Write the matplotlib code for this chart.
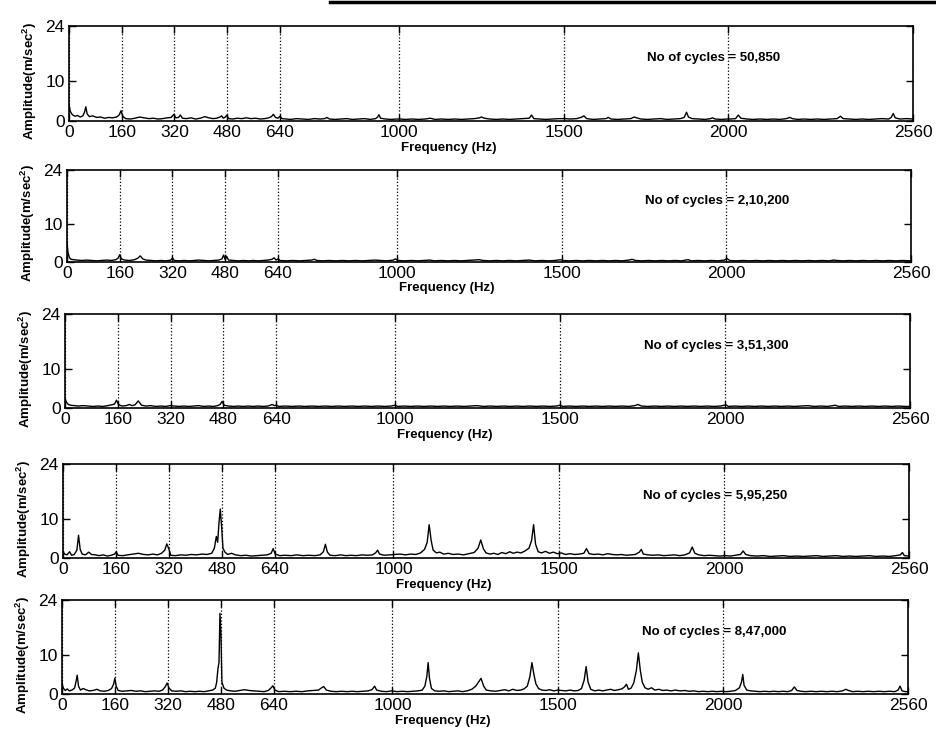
import numpy as np
import matplotlib.pyplot as plt
from matplotlib.lines import Line2D

plt.rcParams['font.family'] = ['Liberation Sans', 'DejaVu Sans']
plt.rcParams['mathtext.fontset'] = 'custom'
plt.rcParams['mathtext.rm'] = 'Liberation Sans'
plt.rcParams['mathtext.bf'] = 'Liberation Sans:bold'

# tick values and grid positions
x_ticks = [0, 160, 320, 480, 640, 1000, 1500, 2000, 2560]
y_ticks = [0, 10, 24]
cycle_labels = ['50,850', '2,10,200', '3,51,300', '5,95,250', '8,47,000']

# spectra: (frequency Hz, amplitude m/s^2)
spec_50850 = [
    (0, 4.2), (4, 2.4), (10, 1.6), (18, 1.2), (26, 1.4), (34, 1.0), (42, 1.3), (47, 2.2), (51, 3.6),
    (55, 1.8), (62, 1.1), (72, 1.3), (84, 0.9), (96, 1.0), (108, 0.7), (120, 0.9), (132, 0.8),
    (144, 1.0), (152, 1.5), (158, 2.6), (163, 1.2), (172, 0.6), (186, 0.5), (200, 0.7), (214, 1.0),
    (228, 0.8), (242, 0.6), (256, 0.7), (270, 0.5), (284, 0.6), (298, 0.8), (310, 0.9), (318, 1.7),
    (324, 0.8), (332, 0.9), (338, 1.5), (344, 0.7), (356, 0.6), (370, 0.8), (384, 0.5), (398, 0.7),
    (412, 1.1), (424, 0.8), (436, 0.6), (448, 0.7), (458, 1.0), (463, 1.3), (468, 0.7), (474, 1.0),
    (479, 1.5), (484, 0.6), (496, 0.5), (510, 0.7), (524, 0.6), (538, 0.8), (552, 0.6), (566, 0.7),
    (580, 0.5), (594, 0.6), (606, 0.8), (614, 1.1), (620, 1.7), (626, 0.9), (634, 0.7), (640, 1.2),
    (646, 0.6), (672, 0.4), (690, 0.6), (708, 0.5), (726, 0.4), (744, 0.6), (762, 0.5), (776, 0.6),
    (782, 0.9), (790, 0.5), (806, 0.4), (824, 0.5), (842, 0.6), (860, 0.4), (878, 0.5), (896, 0.6),
    (914, 0.4), (930, 0.6), (936, 1.0), (940, 1.6), (945, 0.7), (960, 0.5), (978, 0.4), (992, 0.5),
    (1004, 0.5), (1020, 0.4), (1040, 0.5), (1060, 0.4), (1080, 0.5), (1096, 0.7), (1110, 0.4),
    (1130, 0.5), (1150, 0.4), (1170, 0.5), (1190, 0.4), (1210, 0.5), (1230, 0.6), (1245, 0.8),
    (1251, 1.0), (1260, 0.7), (1276, 0.5), (1296, 0.4), (1316, 0.5), (1336, 0.4), (1356, 0.5),
    (1376, 0.6), (1396, 0.7), (1403, 1.5), (1410, 0.6), (1426, 0.5), (1446, 0.4), (1466, 0.5),
    (1486, 0.6), (1504, 0.6), (1520, 0.5), (1540, 0.6), (1556, 1.0), (1562, 1.3), (1570, 0.6),
    (1590, 0.4), (1610, 0.5), (1628, 0.6), (1636, 0.9), (1644, 0.5), (1664, 0.4), (1684, 0.5),
    (1704, 0.6), (1714, 1.0), (1722, 0.8), (1734, 0.5), (1754, 0.4), (1774, 0.5), (1794, 0.6),
    (1814, 0.4), (1834, 0.5), (1854, 0.6), (1866, 0.9), (1873, 2.2), (1879, 1.0), (1890, 0.6),
    (1910, 0.5), (1930, 0.4), (1946, 0.6), (1952, 0.8), (1960, 0.5), (1980, 0.4), (1996, 0.5),
    (2006, 0.5), (2022, 0.6), (2030, 1.5), (2038, 0.7), (2056, 0.5), (2076, 0.4), (2096, 0.5),
    (2116, 0.4), (2136, 0.5), (2156, 0.4), (2176, 0.6), (2186, 0.9), (2194, 0.6), (2210, 0.4),
    (2230, 0.5), (2250, 0.4), (2270, 0.5), (2290, 0.4), (2310, 0.5), (2330, 0.6), (2340, 1.2),
    (2348, 0.6), (2366, 0.5), (2386, 0.4), (2406, 0.5), (2426, 0.4), (2446, 0.5), (2466, 0.6),
    (2486, 0.5), (2494, 0.9), (2500, 1.9), (2506, 0.8), (2520, 0.5), (2540, 0.6), (2560, 0.5),
]

spec_210200 = [
    (0, 5.0), (3, 2.5), (7, 1.2), (12, 0.7), (20, 0.6), (30, 0.5), (45, 0.4), (60, 0.5), (75, 0.4),
    (90, 0.3), (105, 0.4), (120, 0.5), (135, 0.4), (148, 0.6), (155, 1.0), (160, 1.9), (165, 0.8),
    (175, 0.5), (190, 0.4), (205, 0.6), (215, 1.0), (222, 1.6), (230, 0.8), (240, 0.5), (255, 0.4),
    (270, 0.3), (285, 0.4), (300, 0.3), (315, 0.5), (320, 1.1), (325, 0.4), (340, 0.3), (355, 0.4),
    (370, 0.3), (385, 0.4), (400, 0.5), (415, 0.4), (430, 0.3), (445, 0.4), (460, 0.5), (470, 0.8),
    (475, 1.8), (480, 0.6), (484, 1.5), (490, 0.5), (505, 0.4), (520, 0.3), (535, 0.4), (550, 0.3),
    (565, 0.4), (580, 0.3), (595, 0.4), (610, 0.5), (622, 0.7), (628, 1.1), (634, 0.5), (640, 0.8),
    (646, 0.4), (665, 0.3), (685, 0.4), (705, 0.3), (725, 0.4), (742, 0.5), (750, 0.7), (758, 0.4),
    (775, 0.3), (795, 0.4), (815, 0.3), (835, 0.4), (855, 0.3), (875, 0.4), (895, 0.3), (915, 0.4),
    (935, 0.5), (950, 0.4), (970, 0.3), (990, 0.5), (996, 0.8), (1004, 0.4), (1025, 0.3), (1045, 0.4),
    (1065, 0.3), (1085, 0.4), (1100, 0.5), (1115, 0.3), (1135, 0.4), (1155, 0.3), (1175, 0.4),
    (1195, 0.3), (1215, 0.4), (1235, 0.5), (1250, 0.6), (1262, 0.4), (1282, 0.3), (1302, 0.4),
    (1322, 0.3), (1342, 0.4), (1362, 0.3), (1382, 0.4), (1402, 0.5), (1420, 0.3), (1440, 0.4),
    (1460, 0.3), (1480, 0.4), (1496, 0.6), (1504, 0.4), (1524, 0.3), (1544, 0.4), (1564, 0.3),
    (1584, 0.4), (1604, 0.3), (1624, 0.4), (1644, 0.3), (1664, 0.4), (1684, 0.3), (1704, 0.5),
    (1714, 0.7), (1724, 0.4), (1744, 0.3), (1764, 0.4), (1784, 0.3), (1804, 0.4), (1824, 0.3),
    (1844, 0.4), (1864, 0.3), (1876, 0.5), (1884, 0.6), (1894, 0.3), (1914, 0.4), (1934, 0.3),
    (1954, 0.4), (1974, 0.3), (1994, 0.5), (2002, 0.9), (2010, 0.4), (2030, 0.3), (2050, 0.4),
    (2070, 0.3), (2090, 0.4), (2110, 0.3), (2130, 0.4), (2150, 0.3), (2170, 0.4), (2190, 0.3),
    (2210, 0.4), (2230, 0.3), (2250, 0.4), (2270, 0.3), (2290, 0.4), (2310, 0.3), (2326, 0.5),
    (2334, 0.4), (2354, 0.3), (2374, 0.4), (2394, 0.3), (2414, 0.4), (2434, 0.3), (2454, 0.4),
    (2474, 0.3), (2494, 0.4), (2514, 0.3), (2534, 0.4), (2560, 0.3),
]

spec_351300 = [
    (0, 2.6), (4, 1.5), (10, 0.9), (18, 0.7), (28, 0.6), (40, 0.5), (55, 0.6), (70, 0.5), (85, 0.4),
    (100, 0.5), (115, 0.4), (130, 0.6), (140, 0.8), (150, 1.0), (156, 2.0), (162, 0.9), (172, 0.5),
    (185, 0.6), (195, 0.9), (203, 0.6), (212, 0.8), (222, 1.8), (232, 0.7), (245, 0.5), (260, 0.6),
    (275, 0.4), (290, 0.5), (305, 0.4), (318, 0.6), (332, 0.5), (345, 0.4), (360, 0.5), (375, 0.4),
    (390, 0.5), (405, 0.6), (420, 0.4), (435, 0.5), (450, 0.4), (462, 0.6), (470, 0.9), (476, 1.7),
    (482, 0.7), (495, 0.5), (510, 0.4), (525, 0.5), (540, 0.4), (555, 0.5), (570, 0.4), (585, 0.5),
    (600, 0.4), (615, 0.5), (628, 0.9), (634, 0.6), (640, 0.7), (648, 0.4), (668, 0.5), (688, 0.4),
    (708, 0.5), (728, 0.4), (748, 0.5), (768, 0.4), (788, 0.5), (808, 0.4), (828, 0.5), (848, 0.4),
    (868, 0.5), (888, 0.4), (908, 0.5), (928, 0.4), (948, 0.5), (968, 0.4), (988, 0.5), (1000, 0.7),
    (1008, 0.4), (1028, 0.5), (1048, 0.4), (1068, 0.5), (1088, 0.4), (1108, 0.5), (1128, 0.4),
    (1148, 0.5), (1168, 0.4), (1188, 0.5), (1208, 0.4), (1228, 0.5), (1248, 0.6), (1268, 0.4),
    (1288, 0.5), (1308, 0.4), (1328, 0.5), (1348, 0.4), (1368, 0.5), (1388, 0.4), (1408, 0.5),
    (1428, 0.4), (1448, 0.5), (1468, 0.4), (1488, 0.5), (1500, 0.7), (1508, 0.4), (1528, 0.5),
    (1548, 0.4), (1568, 0.5), (1588, 0.4), (1608, 0.5), (1628, 0.4), (1648, 0.5), (1668, 0.4),
    (1688, 0.5), (1708, 0.4), (1726, 0.6), (1736, 0.9), (1746, 0.5), (1766, 0.4), (1786, 0.5),
    (1806, 0.4), (1826, 0.5), (1846, 0.4), (1866, 0.5), (1886, 0.4), (1906, 0.5), (1926, 0.4),
    (1946, 0.5), (1966, 0.4), (1986, 0.5), (2002, 0.8), (2010, 0.4), (2030, 0.5), (2050, 0.4),
    (2070, 0.5), (2090, 0.4), (2110, 0.5), (2130, 0.4), (2150, 0.5), (2170, 0.4), (2190, 0.5),
    (2210, 0.4), (2230, 0.5), (2250, 0.6), (2270, 0.4), (2290, 0.5), (2310, 0.4), (2326, 0.6),
    (2334, 0.7), (2344, 0.4), (2364, 0.5), (2384, 0.4), (2404, 0.5), (2424, 0.4), (2444, 0.5),
    (2464, 0.4), (2484, 0.5), (2504, 0.4), (2524, 0.5), (2544, 0.4), (2560, 0.4),
]

spec_595250 = [
    (0, 1.6), (5, 1.0), (12, 0.8), (20, 1.6), (26, 0.7), (34, 0.9), (42, 2.0), (47, 5.8), (52, 2.2),
    (58, 1.0), (68, 0.8), (78, 1.5), (86, 0.9), (98, 0.8), (110, 0.6), (122, 0.8), (134, 0.5),
    (146, 0.7), (156, 1.0), (161, 1.6), (166, 0.7), (180, 0.6), (196, 0.8), (212, 1.0), (228, 1.2),
    (244, 0.9), (258, 0.8), (272, 1.0), (286, 0.8), (298, 1.2), (308, 2.0), (314, 3.6), (320, 2.4),
    (326, 0.7), (340, 0.6), (356, 0.8), (372, 0.7), (388, 0.9), (404, 0.8), (420, 1.0), (436, 0.9),
    (450, 1.2), (458, 2.5), (464, 5.5), (468, 4.0), (472, 9.0), (476, 12.5), (480, 8.0), (484, 2.5),
    (490, 1.5), (498, 0.9), (510, 1.2), (522, 0.8), (538, 0.6), (554, 0.7), (570, 0.5), (586, 0.6),
    (602, 0.7), (618, 0.8), (630, 1.2), (636, 2.4), (642, 1.0), (656, 0.6), (672, 0.7), (690, 0.6),
    (708, 0.8), (726, 0.6), (744, 0.7), (762, 0.6), (778, 0.8), (788, 1.6), (794, 3.5), (800, 1.5),
    (808, 0.7), (824, 0.6), (840, 0.8), (856, 0.6), (872, 0.7), (888, 0.6), (904, 0.8), (920, 0.7),
    (936, 0.8), (946, 1.3), (952, 2.0), (958, 1.0), (972, 0.7), (988, 0.8), (1004, 0.9), (1020, 1.0),
    (1036, 0.8), (1052, 1.0), (1068, 0.9), (1082, 1.3), (1094, 2.2), (1102, 4.0), (1108, 8.5),
    (1114, 4.5), (1120, 2.0), (1130, 1.3), (1140, 1.5), (1152, 1.0), (1166, 1.2), (1180, 0.9),
    (1196, 1.0), (1212, 0.8), (1228, 1.1), (1244, 1.4), (1256, 2.5), (1264, 4.6), (1272, 2.4),
    (1280, 1.3), (1292, 1.0), (1304, 1.2), (1316, 0.9), (1328, 1.4), (1340, 1.1), (1352, 1.6),
    (1362, 1.2), (1374, 1.5), (1386, 1.3), (1398, 1.8), (1410, 2.5), (1418, 4.5), (1424, 8.5),
    (1430, 3.5), (1438, 1.6), (1448, 1.3), (1460, 1.7), (1472, 1.2), (1484, 1.5), (1496, 1.1),
    (1508, 1.3), (1520, 0.9), (1534, 1.1), (1548, 0.9), (1562, 1.0), (1576, 1.2), (1584, 2.4),
    (1592, 1.1), (1606, 0.9), (1620, 1.0), (1634, 0.8), (1648, 1.1), (1662, 0.9), (1676, 0.8),
    (1690, 0.9), (1704, 0.7), (1718, 0.8), (1732, 0.9), (1744, 1.5), (1750, 2.2), (1756, 1.0),
    (1770, 0.8), (1786, 0.7), (1802, 0.8), (1818, 0.6), (1834, 0.7), (1850, 0.8), (1866, 0.6),
    (1882, 0.8), (1896, 1.3), (1904, 2.8), (1912, 1.2), (1924, 0.8), (1940, 0.6), (1956, 0.7),
    (1972, 0.6), (1988, 0.5), (2004, 0.6), (2020, 0.5), (2036, 0.7), (2050, 0.9), (2058, 1.8),
    (2066, 0.9), (2080, 0.6), (2100, 0.5), (2120, 0.6), (2140, 0.4), (2160, 0.5), (2180, 0.6),
    (2200, 0.4), (2220, 0.5), (2240, 0.4), (2260, 0.5), (2280, 0.6), (2300, 0.4), (2320, 0.5),
    (2340, 0.6), (2360, 0.4), (2380, 0.5), (2400, 0.4), (2420, 0.5), (2440, 0.6), (2460, 0.4),
    (2480, 0.5), (2500, 0.4), (2520, 0.6), (2534, 0.8), (2540, 1.4), (2546, 0.6), (2560, 0.5),
]

spec_847000 = [
    (0, 2.8), (4, 1.5), (10, 0.9), (16, 1.3), (22, 0.8), (30, 1.0), (38, 1.5), (42, 3.0), (46, 4.8),
    (50, 2.0), (56, 1.0), (64, 1.4), (72, 1.1), (82, 0.8), (94, 0.9), (106, 1.2), (116, 0.8),
    (128, 0.7), (140, 0.9), (150, 1.4), (156, 2.5), (160, 4.0), (164, 2.0), (170, 0.9), (182, 0.7),
    (196, 0.8), (210, 0.9), (224, 0.7), (238, 0.8), (252, 0.6), (266, 0.7), (280, 0.8), (294, 0.7),
    (304, 1.0), (312, 1.8), (318, 2.8), (324, 1.5), (332, 0.8), (346, 0.7), (360, 0.8), (374, 0.6),
    (388, 0.7), (402, 0.6), (416, 0.7), (430, 0.6), (444, 0.8), (456, 1.0), (464, 1.5), (468, 3.0),
    (472, 6.5), (475, 8.0), (478, 20.6), (481, 15.0), (484, 3.0), (490, 1.5), (498, 1.0), (510, 0.8),
    (524, 0.7), (538, 0.9), (552, 1.1), (566, 0.9), (580, 0.8), (596, 0.7), (612, 0.6), (624, 0.9),
    (632, 1.5), (638, 2.1), (644, 1.0), (656, 0.6), (672, 0.7), (690, 0.6), (708, 0.7), (726, 0.6),
    (744, 0.8), (760, 0.9), (776, 1.0), (786, 1.6), (792, 1.9), (800, 1.0), (814, 0.7), (830, 0.6),
    (846, 0.7), (862, 0.6), (878, 0.7), (894, 0.6), (910, 0.7), (926, 0.8), (938, 1.1), (946, 2.0),
    (952, 1.0), (966, 0.7), (982, 0.6), (998, 0.8), (1014, 0.6), (1030, 0.7), (1046, 0.6),
    (1062, 0.7), (1078, 0.8), (1090, 1.0), (1098, 2.0), (1104, 4.5), (1108, 8.0), (1112, 4.0),
    (1118, 1.4), (1128, 0.8), (1142, 0.7), (1156, 0.8), (1170, 0.6), (1184, 0.7), (1198, 0.8),
    (1212, 0.6), (1226, 0.8), (1240, 1.2), (1252, 2.0), (1260, 3.0), (1268, 4.0), (1276, 2.0),
    (1284, 1.0), (1298, 0.8), (1312, 0.7), (1326, 0.9), (1340, 1.1), (1352, 0.8), (1364, 1.2),
    (1376, 0.9), (1388, 1.0), (1398, 1.3), (1408, 2.0), (1416, 4.5), (1422, 8.0), (1428, 5.0),
    (1434, 2.6), (1442, 1.4), (1452, 1.0), (1464, 0.9), (1476, 1.1), (1488, 0.8), (1500, 1.0),
    (1512, 0.9), (1524, 0.8), (1538, 1.0), (1550, 0.8), (1562, 0.9), (1572, 1.4), (1580, 3.5),
    (1586, 7.0), (1592, 3.0), (1600, 1.2), (1612, 0.8), (1624, 1.0), (1636, 0.8), (1648, 1.0),
    (1660, 1.2), (1672, 0.9), (1684, 1.1), (1694, 1.3), (1702, 1.8), (1708, 2.5), (1714, 1.2),
    (1722, 1.5), (1730, 2.8), (1738, 6.0), (1744, 10.5), (1750, 6.0), (1756, 3.0), (1764, 1.6),
    (1774, 1.2), (1784, 1.6), (1794, 1.0), (1806, 1.2), (1818, 0.9), (1830, 1.0), (1842, 0.8),
    (1856, 1.0), (1870, 0.8), (1884, 0.9), (1898, 0.7), (1912, 0.8), (1926, 0.6), (1940, 0.7),
    (1954, 0.6), (1968, 0.7), (1982, 0.6), (1996, 0.7), (2010, 0.6), (2024, 0.7), (2038, 0.9),
    (2050, 1.6), (2056, 3.0), (2060, 5.0), (2064, 2.2), (2072, 1.0), (2084, 0.8), (2098, 0.7),
    (2112, 0.6), (2126, 0.7), (2140, 0.6), (2154, 0.7), (2168, 0.6), (2182, 0.7), (2196, 0.6),
    (2208, 0.9), (2216, 1.8), (2224, 0.9), (2236, 0.7), (2250, 0.6), (2266, 0.7), (2282, 0.6),
    (2298, 0.7), (2314, 0.6), (2330, 0.7), (2346, 0.6), (2362, 0.8), (2372, 1.2), (2380, 0.9),
    (2392, 0.6), (2408, 0.7), (2424, 0.6), (2440, 0.7), (2456, 0.6), (2472, 0.7), (2488, 0.6),
    (2504, 0.7), (2520, 0.6), (2530, 1.0), (2536, 2.0), (2542, 0.8), (2552, 0.6), (2560, 0.6),
]

spectra = [spec_50850, spec_210200, spec_351300, spec_595250, spec_847000]

# axes boxes in pixels: left, top, right, bottom
W, H = 937, 738
boxes = [(69, 26, 913, 121), (67, 170, 911, 262), (65, 314, 910, 408),
         (63, 464, 909, 558), (62, 600, 908, 694)]

fig = plt.figure(figsize=(W / 100, H / 100), dpi=100)

for spec, label, (l, t, r, b) in zip(spectra, cycle_labels, boxes):
    ax = fig.add_axes([l / W, 1 - b / H, (r - l) / W, (b - t) / H])
    data = np.array(spec)
    ax.plot(data[:, 0], data[:, 1], color='black', lw=1.0)
    ax.set_xlim(0, 2560)
    ax.set_ylim(0, 24)
    ax.set_xticks(x_ticks)
    ax.set_yticks(y_ticks)
    ax.tick_params(direction='in', top=True, right=True, length=5, width=1,
                   labelsize=12.5, pad=3)
    ax.xaxis.grid(True, linestyle=':', color='black', lw=0.9)
    for s in ax.spines.values():
        s.set_linewidth(1.2)
    ax.set_xlabel('Frequency (Hz)', fontsize=9.5, fontweight='bold')
    ax.xaxis.set_label_coords(0.45, -0.22)
    ax.set_ylabel(r'Amplitude(m/sec$^\mathbf{2}$)', fontsize=9.5, fontweight='bold')
    ax.yaxis.set_label_coords(-0.036, 0.42)
    ax.text(0.685, 0.66, 'No of cycles = ' + label, transform=ax.transAxes,
            fontsize=9.5, fontweight='bold', va='center', ha='left')

# page edge line at the top of the scan
fig.add_artist(Line2D([330 / W, 1.0], [1 - 2 / H, 1 - 2 / H], color='black', lw=2.5))

fig.savefig('out.png', dpi=100)
